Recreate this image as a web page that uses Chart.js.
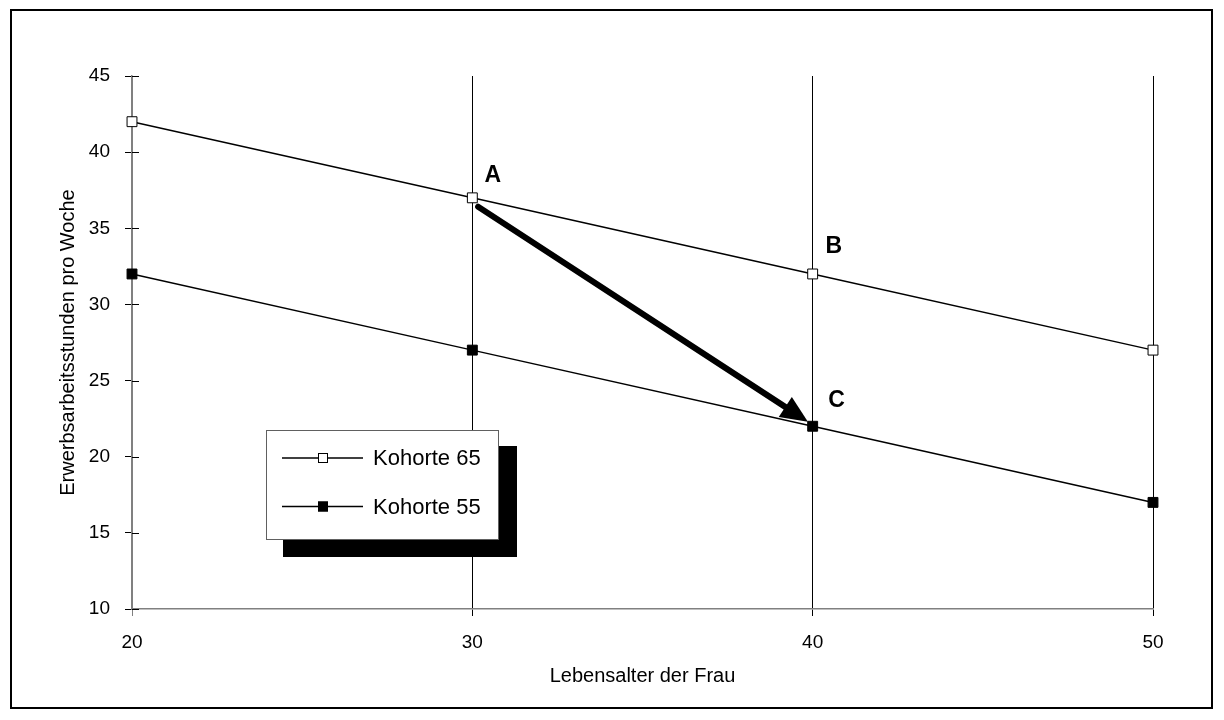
<!DOCTYPE html>
<html><head><meta charset="utf-8">
<script src="https://cdn.jsdelivr.net/npm/chart.js@4/dist/chart.umd.min.js"></script>
<style>html,body{margin:0;padding:0;background:#fff;} #wrap{width:1224px;height:720px;position:relative;}</style>
</head><body><div id="wrap"><canvas id="c" width="1224" height="720"></canvas></div>
<script>
const ages = [20, 30, 40, 50];
const kohorte65 = [42, 37, 32, 27];
const kohorte55 = [32, 27, 22, 17];
const seriesNames = ['Kohorte 65', 'Kohorte 55'];
const xTitle = 'Lebensalter der Frau';
const yTitle = 'Erwerbsarbeitsstunden pro Woche';
const pointLabels = ['A', 'B', 'C'];
const pointLabelX = [30.6, 40.62, 40.7];
const pointLabelY = [38.47, 33.77, 23.66];
const arrowFrom = [30.17, 36.42];
const arrowTo = [39.86, 22.3];

const FONT = "'Liberation Sans', Arial, sans-serif";
Chart.defaults.font.family = FONT;
Chart.defaults.color = '#000';

const toPts = (xs, ys) => xs.map((x, i) => ({x: x, y: ys[i]}));

const overlay = {
  id: 'overlay',
  afterDraw(chart) {
    const ctx = chart.ctx;
    const xs = chart.scales.x, ys = chart.scales.y;
    ctx.save();
    // inner half of y tick marks
    ctx.strokeStyle = '#000'; ctx.lineWidth = 1;
    ys.ticks.forEach(t => {
      const py = Math.round(ys.getPixelForValue(t.value)) + 0.5;
      ctx.beginPath(); ctx.moveTo(xs.left, py); ctx.lineTo(xs.left + 7, py); ctx.stroke();
    });
    // labels A B C
    ctx.fillStyle = '#000';
    ctx.font = 'bold 23px ' + FONT;
    ctx.textAlign = 'center'; ctx.textBaseline = 'middle';
    pointLabels.forEach((l, i) => {
      ctx.fillText(l, xs.getPixelForValue(pointLabelX[i]), ys.getPixelForValue(pointLabelY[i]));
    });
    // arrow
    const x1 = xs.getPixelForValue(arrowFrom[0]), y1 = ys.getPixelForValue(arrowFrom[1]);
    const x2 = xs.getPixelForValue(arrowTo[0]), y2 = ys.getPixelForValue(arrowTo[1]);
    const ang = Math.atan2(y2 - y1, x2 - x1);
    const hl = 27, hw = 12;
    const bx = x2 - hl * Math.cos(ang), by = y2 - hl * Math.sin(ang);
    ctx.strokeStyle = '#000'; ctx.lineWidth = 6; ctx.lineCap = 'round';
    ctx.beginPath(); ctx.moveTo(x1, y1); ctx.lineTo(bx + 4 * Math.cos(ang), by + 4 * Math.sin(ang)); ctx.stroke();
    ctx.beginPath();
    ctx.moveTo(x2, y2);
    ctx.lineTo(bx + hw * Math.sin(ang), by - hw * Math.cos(ang));
    ctx.lineTo(bx - hw * Math.sin(ang), by + hw * Math.cos(ang));
    ctx.closePath(); ctx.fill();
    // legend with shadow
    ctx.lineCap = 'butt';
    ctx.fillStyle = '#000';
    ctx.fillRect(283, 446, 234, 111);
    ctx.fillStyle = '#fff';
    ctx.fillRect(267, 430, 232, 109);
    ctx.strokeStyle = '#606060'; ctx.lineWidth = 1;
    ctx.strokeRect(266.5, 430.5, 232, 109);
    chart.data.datasets.forEach((ds, i) => {
      const cy = 458 + i * 48.5;
      ctx.strokeStyle = '#000'; ctx.lineWidth = 1.5;
      ctx.beginPath(); ctx.moveTo(282, cy); ctx.lineTo(363, cy); ctx.stroke();
      ctx.fillStyle = ds.pointBackgroundColor;
      ctx.fillRect(318, cy - 5, 10, 10);
      ctx.lineWidth = 1; ctx.strokeStyle = '#000';
      ctx.strokeRect(318.5, cy - 4.5, 9, 9);
      ctx.fillStyle = '#000';
      ctx.font = '22px ' + FONT;
      ctx.textAlign = 'left'; ctx.textBaseline = 'middle';
      ctx.fillText(ds.label, 373, cy + 1);
    });
    // outer border
    ctx.strokeStyle = '#000'; ctx.lineWidth = 2;
    ctx.strokeRect(11, 10, 1201, 698);
    ctx.restore();
  }
};

new Chart(document.getElementById('c'), {
  type: 'line',
  data: {
    datasets: [
      {label: seriesNames[0], data: toPts(ages, kohorte65), borderColor: '#000', borderWidth: 1.5,
       pointStyle: 'rect', pointRadius: 7, pointBackgroundColor: '#fff', pointBorderColor: '#000', pointBorderWidth: 1, clip: false},
      {label: seriesNames[1], data: toPts(ages, kohorte55), borderColor: '#000', borderWidth: 1.5,
       pointStyle: 'rect', pointRadius: 7, pointBackgroundColor: '#000', pointBorderColor: '#000', pointBorderWidth: 1, clip: false}
    ]
  },
  options: {
    responsive: false, devicePixelRatio: 1, animation: false,
    layout: {padding: {left: 0, top: 76, right: 71, bottom: 0}},
    plugins: {legend: {display: false}, tooltip: {enabled: false}},
    scales: {
      x: {
        type: 'linear', min: 20, max: 50,
        ticks: {stepSize: 10, color: '#000', font: {size: 19}, padding: 15},
        grid: {color: c => (c.tick && c.tick.value === 20) ? '#808080' : '#000', lineWidth: 1, tickLength: 7},
        border: {color: '#808080', width: 1.5},
        title: {display: true, text: xTitle, color: '#000', font: {size: 20}, padding: {top: 0, bottom: 32}},
        afterFit: s => { s.height = 111; }
      },
      y: {
        min: 10, max: 45,
        ticks: {stepSize: 5, color: '#000', font: {size: 19}, padding: 15},
        grid: {drawOnChartArea: false, color: '#000', tickLength: 7},
        border: {color: '#808080', width: 1.5},
        title: {display: true, text: yTitle, color: '#000', font: {size: 20}, padding: {top: 56, bottom: 0}},
        afterFit: s => { s.width = 132; }
      }
    }
  },
  plugins: [overlay]
});
</script>
</body></html>
